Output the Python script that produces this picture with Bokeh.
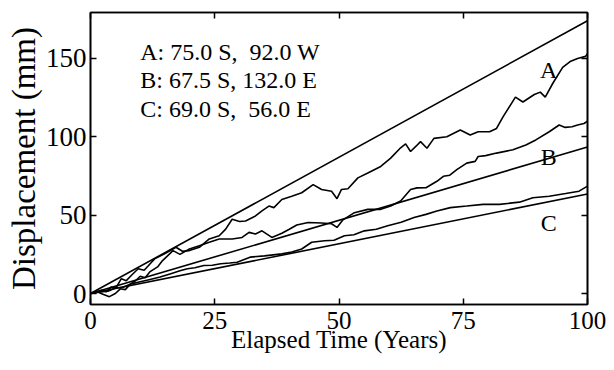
from bokeh.plotting import figure
from bokeh.models import LinearAxis, FixedTicker, Range1d
from bokeh.core.properties import value
from bokeh.embed import file_html
from bokeh.resources import INLINE

# ---- data ----
trend_t = [0, 100]
trend_a = [0, 174.0]
trend_b = [0, 93.5]
trend_c = [0, 63.5]

a_t = [0, 1, 2.3, 3.2, 4.2, 5.1, 6.2, 7.2, 8.2, 9.6, 10.8, 12, 12.9, 14.9, 17.2, 18.5, 19.9,
       21.9, 23.9, 25.9, 27.2, 28.5, 30, 31.2, 33.2, 34.5, 35.9, 36.9, 38.5, 40.5, 42.5,
       44.8, 46.5, 48.5, 49.6, 50.5, 51.8, 53.8, 55.8, 58.4, 60.4, 62.4, 63.4, 64.4, 65.5,
       66.4, 67.7, 69.1, 71.7, 74.4, 76.4, 78, 80.3, 81.7, 83, 85.5, 87, 89.3, 90.5, 91.5,
       93, 95, 96.5, 98, 99.6, 100]
a_v = [0, 1, 2.1, 1.2, 4.2, 3.5, 9.5, 8.2, 11.5, 15.8, 14.8, 19, 22.1, 25.3, 29.5, 27, 27.4,
       29.5, 34.8, 36.9, 41.1, 47.4, 46, 46.3, 49.5, 52.7, 55.8, 54.8, 60, 62.1, 64.3,
       69.5, 66.4, 65.3, 60.5, 66.4, 66.8, 73.8, 76.9, 81.1, 86.4, 93, 95.5, 90.6, 94,
       96.9, 92.7, 99, 100, 104.3, 101.1, 103.2, 103.2, 105.3, 112.7, 125.3, 122.2, 127, 128.5, 125.3,
       134, 144.3, 148, 150, 151.3, 153]

b_t = [0, 1.5, 2.5, 3.8, 5, 6, 7, 8, 9, 10, 11, 12, 13.5, 14.5, 15.5, 16.6, 18, 19.9, 21.9,
       23.9, 25.9, 28.5, 30.5, 31.9, 33.2, 34.5, 36.5, 38.5, 40, 41.5, 43.8, 46.5, 48.5,
       49.6, 50.8, 53.1, 55.8, 58.4, 60.4, 62.4, 64.4, 65.7, 67.5, 69.7, 71, 72.3, 73.7,
       75.7, 77.4, 78, 79.5, 81.7, 85, 87.6, 89.6, 92.3, 94.3, 95.5, 96.9, 98, 99.3, 100]
b_v = [0, 1, -0.5, -2, 0, 3, 2.5, 6, 8, 11, 10, 14, 17, 21, 24, 27.4, 25, 28.4, 30.5,
       32.7, 34.8, 34.8, 35.8, 39, 38, 40, 35.8, 38.5, 41, 43.7, 45.3, 45, 44.5,
       42.2, 47, 51.6, 53.7, 53.7, 55.8, 59, 66.4, 67.4, 67.5, 71.6, 74.8, 75.5, 79,
       83.2, 84.3, 87.4, 88, 89.6, 91.7, 94.8, 98, 103.2, 107.5, 106, 106.4, 107.5, 108.5, 110]

c_t = [0, 2, 3.5, 5, 6.5, 8, 10, 12, 14, 16, 18, 19.5, 21, 22.8, 24.5, 26.2, 28, 29.5, 32.1,
       35, 38.5, 40.5, 42.5, 44.5, 47.1, 49, 51.1, 53, 55.1, 57.5, 59.8, 62.5, 65.1, 67.5,
       69.7, 72.4, 75.7, 79, 82.3, 86.3, 89, 92.3, 95.6, 98.3, 100]
c_v = [0, 1, 1.5, 3.5, 4, 6, 7.5, 9, 10.5, 12.5, 14.5, 15.8, 16.5, 17.9, 18, 19, 19.5, 20, 23.2,
       24, 25.3, 26.5, 28.4, 32.7, 33.7, 34, 36.9, 37.5, 40, 41, 43.2, 45.5, 48.5, 50.5,
       52.7, 54.8, 55.8, 56.9, 56.9, 58.3, 61.1, 62.1, 63.8, 65.3, 68.5]

x_ticks = [0, 25, 50, 75, 100]
y_ticks = [0, 50, 100, 150]

x_title = "Elapsed Time (Years)"
y_title = "Displacement (mm)"
legend_lines = ["A: 75.0 S,\u00a0\u00a092.0 W", "B: 67.5 S, 132.0 E", "C: 69.0 S,\u00a0\u00a056.0 E"]
curve_labels = ["A", "B", "C"]

FONT = "Liberation Serif"

p = figure(width=606, height=362, x_range=Range1d(0, 100), y_range=Range1d(-7.0, 179.3),
           output_backend="svg", toolbar_location=None,
           min_border_left=90, min_border_right=19, min_border_top=12, min_border_bottom=58)
p.background_fill_color = "white"
p.border_fill_color = "white"
p.xgrid.grid_line_color = None
p.ygrid.grid_line_color = None
p.outline_line_color = "black"
p.outline_line_width = 1.6
p.outline_line_alpha = 1.0


def style_main(ax, ticks, size, standoff):
    ax.ticker = FixedTicker(ticks=ticks)
    ax.major_tick_in = 6
    ax.major_tick_out = 0
    ax.major_tick_line_width = 1.5
    ax.major_tick_line_color = "black"
    ax.minor_tick_line_color = None
    ax.axis_line_color = "black"
    ax.axis_line_width = 1.6
    ax.major_label_text_font = FONT
    ax.major_label_text_font_size = size
    ax.major_label_text_color = "black"
    ax.major_label_standoff = standoff


def style_mirror(ax, ticks):
    # tick marks only (as minor ticks), no labels
    ax.ticker = FixedTicker(ticks=[], minor_ticks=ticks)
    ax.minor_tick_in = 6
    ax.minor_tick_out = 0
    ax.minor_tick_line_width = 1.5
    ax.minor_tick_line_color = "black"
    ax.major_tick_line_color = None
    ax.axis_line_color = "black"
    ax.axis_line_width = 1.6


style_main(p.xaxis[0], x_ticks, "25px", 7)
style_main(p.yaxis[0], y_ticks, "27px", 4)

xa = p.xaxis[0]
xa.axis_label = x_title
xa.axis_label_text_font = FONT
xa.axis_label_text_font_size = "25px"
xa.axis_label_text_font_style = "normal"
xa.axis_label_text_color = "black"
xa.axis_label_standoff = -6

ya = p.yaxis[0]
ya.axis_label = y_title
ya.axis_label_text_font = FONT
ya.axis_label_text_font_size = "33px"
ya.axis_label_text_font_style = "normal"
ya.axis_label_text_color = "black"
ya.axis_label_standoff = 1

top = LinearAxis()
style_mirror(top, x_ticks)
p.add_layout(top, "above")
right = LinearAxis()
style_mirror(right, y_ticks)
p.add_layout(right, "right")

for yy in (trend_a, trend_b, trend_c):
    p.line(trend_t, yy, line_color="black", line_width=1.6)
for tt, vv in ((a_t, a_v), (b_t, b_v), (c_t, c_v)):
    p.line(tt, vv, line_color="black", line_width=1.6)

p.text(x=[10, 10, 10], y=[154, 136, 118], text=legend_lines,
       text_font=value(FONT), text_font_size="24px", text_color="black",
       text_align="left", text_baseline="alphabetic")
p.text(x=[92.2, 92.2, 92.2], y=[142.3, 87.4, 44.7], text=curve_labels,
       text_font=value(FONT), text_font_size="24px", text_color="black",
       text_align="center", text_baseline="alphabetic")

open("out.html", "w").write(file_html(p, INLINE))
